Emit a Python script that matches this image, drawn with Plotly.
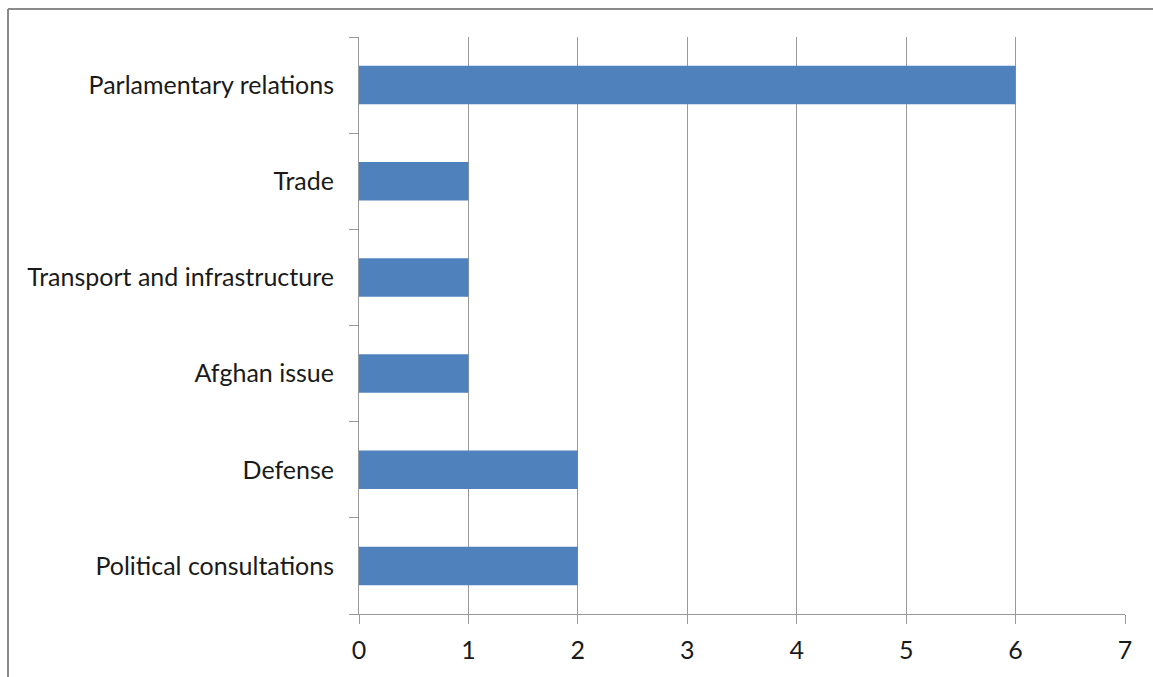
import plotly.graph_objects as go

categories = ["Political consultations", "Defense", "Afghan issue",
              "Transport and infrastructure", "Trade", "Parlamentary relations"]
values = [2, 2, 1, 1, 1, 6]
x_ticks = [0, 1, 2, 3, 4, 5, 6, 7]

W, H = 1153, 677
ml, mr, mt, mb = 359, 28, 37, 63
pw, ph = W - ml - mr, H - mt - mb

fig = go.Figure(go.Bar(
    y=categories, x=values, orientation="h",
    marker=dict(color="#4F81BD", line=dict(width=0)),
))

axis_color = "#999999"
font_family = "Lato, 'Open Sans', sans-serif"

fig.update_layout(
    width=W, height=H,
    margin=dict(l=ml, r=mr, t=mt, b=mb, pad=0),
    paper_bgcolor="white", plot_bgcolor="white",
    bargap=0.6, showlegend=False,
    font=dict(family=font_family, size=25, color="#1a1a1a"),
    xaxis=dict(range=[0, 7], tickvals=x_ticks, showgrid=True,
               gridcolor=axis_color, gridwidth=1, showline=True,
               linecolor=axis_color, linewidth=1, ticks="outside",
               ticklen=9, tickcolor=axis_color, zeroline=False,
               tickfont=dict(size=25), ticklabelstandoff=5),
    yaxis=dict(categoryorder="array", categoryarray=categories,
               showgrid=False, showline=True, linecolor=axis_color,
               linewidth=1, ticks="outside", tickson="boundaries",
               ticklen=9, tickcolor=axis_color, zeroline=False,
               tickfont=dict(size=25), ticklabelstandoff=19),
    shapes=[
        dict(type="line", xref="paper", yref="paper",
             x0=(8 - ml) / pw, x1=(8 - ml) / pw,
             y0=(mt + ph - 9) / ph,
             y1=(mt + ph - H - 5) / ph,
             line=dict(color="#8a8a8a", width=2)),
        dict(type="line", xref="paper", yref="paper",
             x0=(8 - ml) / pw, x1=(W + 5 - ml) / pw,
             y0=(mt + ph - 9) / ph, y1=(mt + ph - 9) / ph,
             line=dict(color="#8a8a8a", width=2)),
    ],
)

fig.write_html("out.html")
